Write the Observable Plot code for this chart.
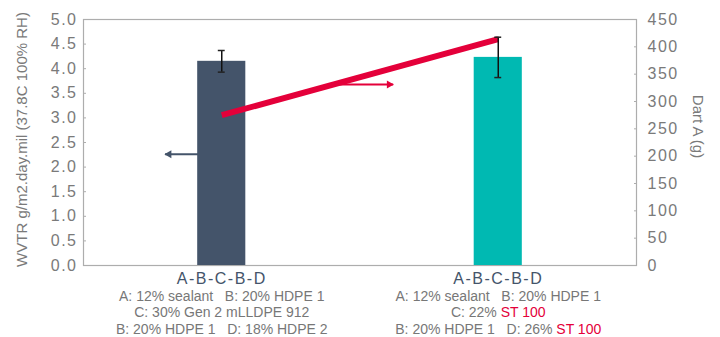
<!DOCTYPE html>
<html><head><meta charset="utf-8">
<script src="https://cdn.jsdelivr.net/npm/d3@7"></script>
<script src="https://cdn.jsdelivr.net/npm/@observablehq/plot@0.6"></script>
<style>
body{margin:0;background:#fff;}
svg text{white-space:pre;}
g[aria-label="y-axis tick label"] text{letter-spacing:1.5px;}
g[aria-label="x-axis tick label"] text{letter-spacing:1.5px;}
g.desc text{letter-spacing:0.1px;}
</style></head><body><div id="chart"></div>
<script>
// ---- data ----
const categories = ["A-B-C-B-D", "A-B-C-B-D"];
const wvtr = [4.15, 4.23];            // WVTR g/m2.day.mil (left axis)
const wvtrErr = [0.22, 0.41];         // error (±)
const dart = [275, 414];              // Dart A (g) (right axis)
const barColors = ["#44546a", "#00b9b2"];
const wvtrTicks = [0, 0.5, 1, 1.5, 2, 2.5, 3, 3.5, 4, 4.5, 5];
const dartTicks = [0, 50, 100, 150, 200, 250, 300, 350, 400, 450];
const descriptions = [
  ["A: 12% sealant   B: 20% HDPE 1", "C: 30% Gen 2 mLLDPE 912", "B: 20% HDPE 1   D: 18% HDPE 2"],
  ["A: 12% sealant   B: 20% HDPE 1", "C: 22% ST 100", "B: 20% HDPE 1   D: 26% ST 100"]
];
const highlight = "ST 100";
const yLabel = "WVTR g/m2.day.mil (37.8C 100% RH)";
const y2Label = "Dart A (g)";
// annotation arrows: which series they point to, at which value, from/to in category units
const arrows = [
  {series: "wvtr", value: 2.26, from: 0, to: -0.205},
  {series: "dart", value: 331, from: 0.423, to: 0.62}
];

// ---- derived ----
const red = "#e4003a";
const dartMax = 450, wvtrMax = 5;
const toLeft = v => v * wvtrMax / dartMax;
const rows = categories.map((c, i) => ({i, c, wvtr: wvtr[i], err: wvtrErr[i], dart: dart[i], color: barColors[i]}));
const halfBar = 0.087, capHalf = 0.0125;
const caps = rows.flatMap(d => [{i: d.i, y: d.wvtr - d.err}, {i: d.i, y: d.wvtr + d.err}]);
const arrowRows = arrows.map(a => ({
  ...a,
  y: a.series === "wvtr" ? a.value : toLeft(a.value),
  color: a.series === "wvtr" ? barColors[0] : red
}));
const descRows = descriptions.flatMap((lines, i) => lines.map((t, k) => ({i, k, t})));
const font = "'Liberation Sans', Arial, Helvetica, sans-serif";

const chart = Plot.plot({
  width: 720, height: 337,
  marginLeft: 83, marginRight: 84, marginTop: 19, marginBottom: 72,
  x: {type: "linear", domain: [-0.5, 1.5]},
  y: {domain: [0, wvtrMax]},
  color: {type: "identity"},
  style: {fontFamily: font, background: "#fff", color: "#7a7a7a"},
  marks: [
    Plot.frame({stroke: "#adadad", strokeWidth: 1.2}),
    Plot.axisY({anchor: "left", ticks: wvtrTicks, tickFormat: d => d.toFixed(1), tickSize: -3, tickPadding: 9, fontSize: 16, label: null, stroke: "#adadad", fill: "#7a7a7a"}),
    Plot.axisY({anchor: "right", ticks: dartTicks.map(toLeft), tickFormat: d => String(Math.round(d * dartMax / wvtrMax)), tickSize: -3, tickPadding: 14, fontSize: 16, label: null, stroke: "#adadad", fill: "#7a7a7a"}),
    Plot.axisX({ticks: [0, 1], tickFormat: i => categories[i], tickSize: 0, tickPadding: 7, fontSize: 16, label: null, fill: "#44546a"}),
    Plot.text([yLabel], {frameAnchor: "left", textAnchor: "middle", text: d => d, rotate: -90, dx: -61, dy: -3, fontSize: 15, fill: "#7a7a7a"}),
    Plot.text([y2Label], {frameAnchor: "right", textAnchor: "middle", text: d => d, rotate: 90, dx: 61, dy: -16, fontSize: 15, fill: "#7a7a7a"}),
    // arrows (dark one drawn behind the bar)
    Plot.link(arrowRows.filter(a => a.series === "wvtr"), {x1: "from", x2: "to", y1: "y", y2: "y", stroke: "color", strokeWidth: 2}),
    Plot.dot(arrowRows.filter(a => a.series === "wvtr"), {x: "to", y: "y", symbol: "triangle", r: 3, rotate: -90, fill: "color", dx: 4}),
    Plot.rectY(rows, {x1: d => d.i - halfBar, x2: d => d.i + halfBar, y1: 0, y2: "wvtr", fill: "color"}),
    Plot.line(rows, {x: "i", y: d => toLeft(d.dart), stroke: red, strokeWidth: 6, strokeLinecap: "butt"}),
    Plot.link(arrowRows.filter(a => a.series === "dart"), {x1: "from", x2: "to", y1: "y", y2: "y", stroke: "color", strokeWidth: 2}),
    Plot.dot(arrowRows.filter(a => a.series === "dart"), {x: "to", y: "y", symbol: "triangle", r: 3, rotate: 90, fill: "color", dx: -4}),
    Plot.ruleX(rows, {x: "i", y1: d => d.wvtr - d.err, y2: d => d.wvtr + d.err, stroke: "#111", strokeWidth: 1.5}),
    Plot.ruleY(caps, {y: "y", x1: d => d.i - capHalf, x2: d => d.i + capHalf, stroke: "#222", strokeWidth: 1.5}),
    ...[0, 1, 2].map(k => Plot.text(descRows.filter(d => d.k === k), {x: "i", text: "t", frameAnchor: "bottom", dy: 35 + k * 16.5, fontSize: 14, fill: "#777", ariaLabel: "desc"}))
  ]
});
d3.select(chart).selectAll('g[aria-label="desc"]').attr("class", "desc");
d3.select(chart).selectAll("text").each(function() {
  const s = this.textContent;
  if (this.children.length === 0 && s.includes(highlight)) {
    const parts = s.split(highlight);
    this.textContent = "";
    parts.forEach((p, j) => {
      if (p) d3.select(this).append("tspan").text(p);
      if (j < parts.length - 1) d3.select(this).append("tspan").attr("fill", red).text(highlight);
    });
  }
});
document.getElementById("chart").appendChild(chart);
</script></body></html>
